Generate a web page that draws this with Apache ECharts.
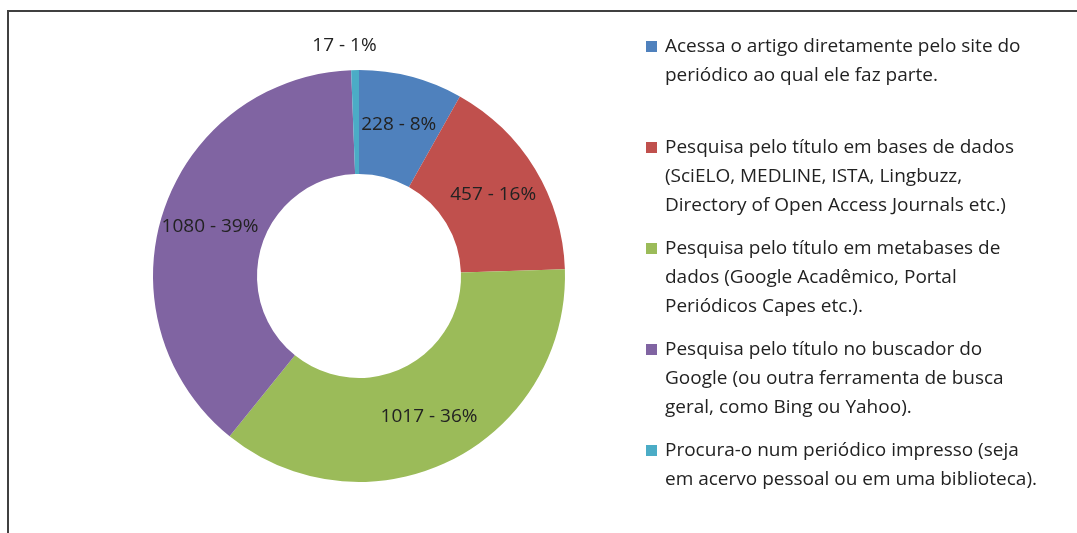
<!DOCTYPE html>
<html>
<head>
<meta charset="utf-8">
<script src="https://cdn.jsdelivr.net/npm/echarts@6/dist/echarts.min.js"></script>
<style>
html,body{margin:0;padding:0;background:#fff;}
#c{width:1077px;height:533px;}
</style>
</head>
<body>
<div id="c"></div>
<script>
const categories = [
  "Acessa o artigo diretamente pelo site do\nperiódico ao qual ele faz parte.",
  "Pesquisa pelo título em bases de dados\n(SciELO, MEDLINE, ISTA, Lingbuzz,\nDirectory of Open Access Journals etc.)",
  "Pesquisa pelo título em metabases de\ndados (Google Acadêmico, Portal\nPeriódicos Capes etc.).",
  "Pesquisa pelo título no buscador do\nGoogle (ou outra ferramenta de busca\ngeral, como Bing ou Yahoo).",
  "Procura-o num periódico impresso (seja\nem acervo pessoal ou em uma biblioteca)."
];
const values = [228, 457, 1017, 1080, 17];
const colors = ["#4F81BD", "#C0504D", "#9BBB59", "#8064A2", "#4BACC6"];

const FONT = "Open Sans";
const FS = 19;
const LH = 29;
const total = values.reduce((a, b) => a + b, 0);

const data = categories.map((name, i) => {
  const item = { name: name, value: values[i], itemStyle: { color: colors[i] } };
  if (i === 4) {
    item.label = { position: 'outside' };
    item.labelLine = { show: false, length: 24, length2: 0 };
  }
  return item;
});

const rich = {
  gap: { width: 8, lineHeight: LH },
  ind: { width: 19, lineHeight: LH },
  t: { fontFamily: FONT, fontSize: FS, lineHeight: LH, color: '#222' }
};
colors.forEach((c, i) => {
  rich['sq' + i] = { width: 11, height: 11, backgroundColor: c, lineHeight: LH };
});

const chart = echarts.init(document.getElementById('c'), null, { renderer: 'canvas' });
chart.setOption({
  animation: false,
  backgroundColor: '#fff',
  graphic: [{
    type: 'rect',
    shape: { x: 8, y: 11, width: 1200, height: 700 },
    style: { fill: 'none', stroke: '#404040', lineWidth: 2 },
    silent: true
  }],
  legend: {
    orient: 'vertical',
    left: 636,
    top: 27,
    itemGap: 14,
    itemWidth: 0,
    itemHeight: 0,
    icon: 'rect',
    selectedMode: false,
    data: categories,
    formatter: function (name) {
      const i = categories.indexOf(name);
      const lines = name.split('\n');
      let s = lines.map((l, k) => (k === 0 ? '{sq' + i + '|}{gap|}' : '{ind|}') + '{t|' + l + '}').join('\n');
      if (lines.length < 3) s += '\n{ind|}';
      return s;
    },
    textStyle: { fontFamily: FONT, fontSize: FS, lineHeight: LH, color: '#222', rich: rich }
  },
  series: [{
    type: 'pie',
    center: [359, 276],
    radius: [102, 206],
    startAngle: 90,
    clockwise: true,
    avoidLabelOverlap: false,
    itemStyle: { borderWidth: 0 },
    label: {
      show: true,
      position: 'inside',
      fontFamily: FONT,
      fontSize: FS,
      color: '#222',
      formatter: function (p) {
        return p.value + ' - ' + Math.round(p.value / total * 100) + '%';
      }
    },
    labelLayout: function (p) {
      if (p.dataIndex === 4) return { dx: 27 };
      return {};
    },
    emphasis: { disabled: true },
    data: data
  }]
});
</script>
</body>
</html>
